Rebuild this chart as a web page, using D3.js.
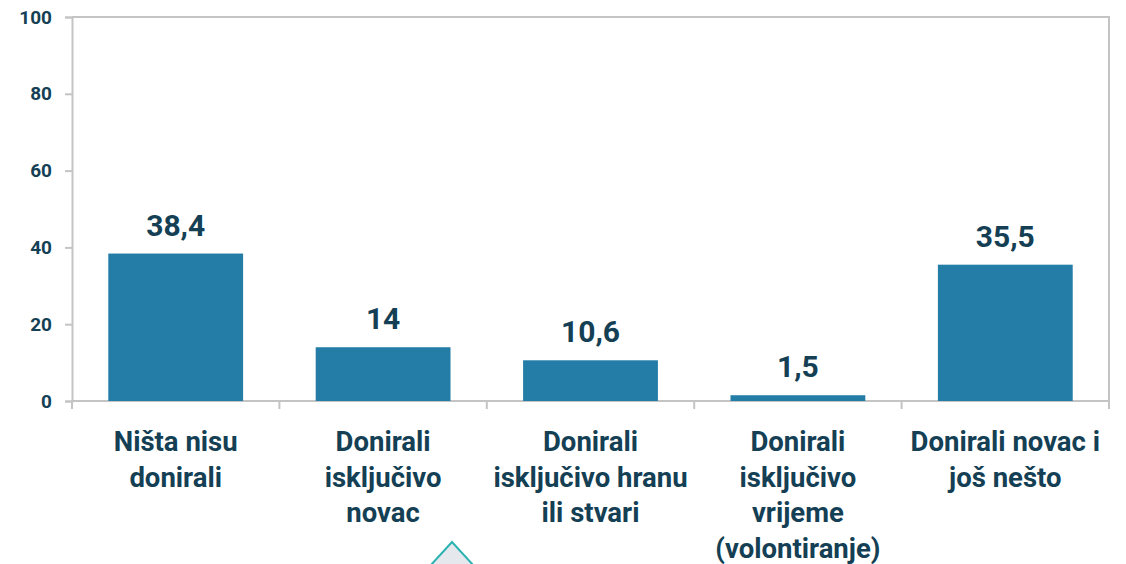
<!DOCTYPE html>
<html>
<head>
<meta charset="utf-8">
<script src="https://cdn.jsdelivr.net/npm/d3@7"></script>
<style>
body { margin: 0; background: #fff; }
text { font-family: Roboto, "Noto Sans", sans-serif; font-weight: 700; fill: #143f54; }
</style>
</head>
<body>
<script>
var categories = [
    ["Ništa nisu", "donirali"],
    ["Donirali", "isključivo", "novac"],
    ["Donirali", "isključivo hranu", "ili stvari"],
    ["Donirali", "isključivo", "vrijeme", "(volontiranje)"],
    ["Donirali novac i", "još nešto"]
];
var values = [38.4, 14, 10.6, 1.5, 35.5];
var valueLabels = ["38,4", "14", "10,6", "1,5", "35,5"];
var yTicks = [0, 20, 40, 60, 80, 100];

var width = 1126, height = 564;
var plotLeft = 72, plotRight = 1109, plotTop = 17, plotBottom = 401;

var svg = d3.select("body").append("svg")
    .attr("width", width)
    .attr("height", height);

var x = d3.scaleBand()
    .domain(d3.range(values.length))
    .range([plotLeft, plotRight])
    .paddingInner(0.35)
    .paddingOuter(0.175);

var y = d3.scaleLinear()
    .domain([0, 100])
    .range([plotBottom, plotTop]);

// frame: top and right edges
svg.append("path")
    .attr("d", "M" + plotLeft + "," + plotTop + "H" + plotRight + "V" + plotBottom)
    .attr("fill", "none")
    .attr("stroke", "#c4c4c4")
    .attr("stroke-width", 2);

// y axis
var yAxis = svg.append("g")
    .attr("transform", "translate(" + plotLeft + ",0)")
    .call(d3.axisLeft(y).tickValues(yTicks).tickSize(7).tickPadding(13));
yAxis.select(".domain").attr("stroke", "#c4c4c4").attr("stroke-width", 2);
yAxis.selectAll(".tick line").attr("stroke", "#c4c4c4").attr("stroke-width", 2);
yAxis.selectAll(".tick text")
    .style("font-size", "19px")
    .style("font-family", "Roboto, sans-serif")
    .style("font-weight", 700)
    .attr("fill", "#143f54");

// x axis with ticks between categories
var bandW = (plotRight - plotLeft) / values.length;
svg.append("line")
    .attr("x1", plotLeft).attr("x2", plotRight)
    .attr("y1", plotBottom).attr("y2", plotBottom)
    .attr("stroke", "#c4c4c4").attr("stroke-width", 2);
svg.append("g").selectAll("line")
    .data(d3.range(values.length + 1))
    .enter().append("line")
    .attr("x1", function (i) { return plotLeft + i * bandW; })
    .attr("x2", function (i) { return plotLeft + i * bandW; })
    .attr("y1", plotBottom)
    .attr("y2", plotBottom + 8)
    .attr("stroke", "#c4c4c4")
    .attr("stroke-width", 2);

// bars
svg.append("g").selectAll("rect")
    .data(values)
    .enter().append("rect")
    .attr("x", function (d, i) { return x(i); })
    .attr("width", x.bandwidth())
    .attr("y", function (d) { return y(d); })
    .attr("height", function (d) { return y(0) - y(d); })
    .attr("fill", "#237da7");

// value labels
svg.append("g").selectAll("text")
    .data(values)
    .enter().append("text")
    .attr("x", function (d, i) { return x(i) + x.bandwidth() / 2; })
    .attr("y", function (d) { return y(d) - 18; })
    .attr("text-anchor", "middle")
    .style("font-size", "30px")
    .text(function (d, i) { return valueLabels[i]; });

// category labels
var cat = svg.append("g").selectAll("text")
    .data(categories)
    .enter().append("text")
    .attr("x", function (d, i) { return x(i) + x.bandwidth() / 2; })
    .attr("y", 451)
    .attr("text-anchor", "middle")
    .style("font-size", "27.5px");
cat.selectAll("tspan")
    .data(function (d) { return d; })
    .enter().append("tspan")
    .attr("x", function () { return d3.select(this.parentNode).attr("x"); })
    .attr("dy", function (d, j) { return j === 0 ? 0 : 35.5; })
    .text(function (d) { return d; });

// decorative triangle at the bottom
svg.append("path")
    .attr("d", "M452,542 L430,566 L474,566 Z")
    .attr("fill", "#e5e8ec")
    .attr("stroke", "#2bb3b3")
    .attr("stroke-width", 2);
</script>
</body>
</html>
